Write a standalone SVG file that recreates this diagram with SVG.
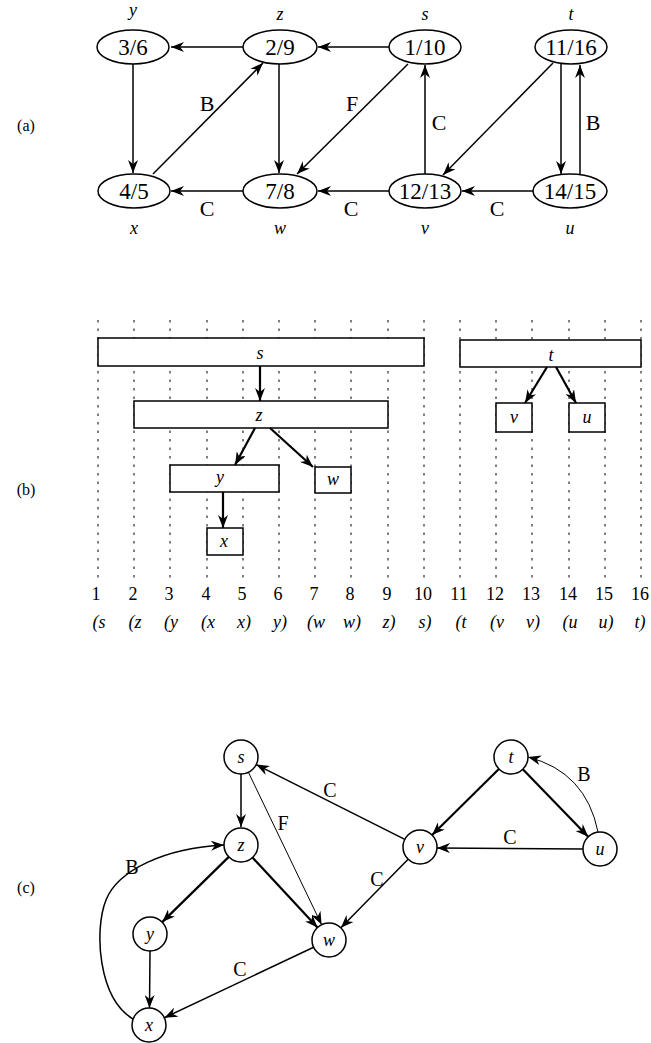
<svg xmlns="http://www.w3.org/2000/svg" width="651" height="1043" viewBox="0 0 651 1043">
<style>
.n{fill:white;stroke:black;stroke-width:1.5}
.e{stroke:black;stroke-width:1.5;fill:none;marker-end:url(#ah)}
.et{stroke:black;stroke-width:2.2;fill:none;marker-end:url(#ah)}
.ef{stroke:black;stroke-width:1;fill:none;marker-end:url(#ah)}
.num{font-family:"Liberation Serif",serif;font-size:23px;text-anchor:middle}
.lab{font-family:"Liberation Serif",serif;font-size:22px;text-anchor:middle}
.it{font-family:"Liberation Serif",serif;font-size:18px;font-style:italic;text-anchor:middle}
.sec{font-family:"Liberation Serif",serif;font-size:16px;text-anchor:middle}
.dot{stroke:black;stroke-width:1;stroke-dasharray:2.5 6}
.bar{fill:white;stroke:black;stroke-width:1.5}
.tk{font-family:"Liberation Serif",serif;font-size:18px;text-anchor:middle}
</style>
<defs>
<marker id="ah" markerUnits="userSpaceOnUse" markerWidth="14" markerHeight="10" refX="13" refY="5" orient="auto" viewBox="0 0 14 10">
<path d="M0,0 L13,5 L0,10 L4,5 Z" fill="black"/>
</marker>
</defs>
<rect width="651" height="1043" fill="white"/>

<text class="sec" x="26" y="131">(a)</text>
<text class="sec" x="26" y="495">(b)</text>
<text class="sec" x="26" y="893">(c)</text>

<!-- Part (a) connectors -->
<g id="edges-a">
<path class="e" d="M243,47 L171,47"/>
<path class="e" d="M389,47 L318,47"/>
<path class="e" d="M133,64 L133,173"/>
<path class="e" d="M153,174 L263,63"/>
<path class="e" d="M279,64 L279,173"/>
<path class="e" d="M408,64 L297,174"/>
<path class="e" d="M243,191 L171,191"/>
<path class="e" d="M389,191 L318,191"/>
<path class="e" d="M425,174 L425,65"/>
<path class="e" d="M553,63 L443,175"/>
<path class="e" d="M561,64 L561,174"/>
<path class="e" d="M580,174 L580,65"/>
<path class="e" d="M533,191 L462,191"/>
<text class="lab" x="207" y="111">B</text>
<text class="lab" x="352" y="111">F</text>
<text class="lab" x="439" y="130">C</text>
<text class="lab" x="593" y="130">B</text>
<text class="lab" x="207" y="216">C</text>
<text class="lab" x="351" y="216">C</text>
<text class="lab" x="497" y="216">C</text>
</g>

<!-- Part (a) nodes -->
<g id="a-y"><ellipse class="n" cx="133" cy="47" rx="36" ry="17"/><text class="num" x="133" y="55">3/6</text><text class="it" x="133" y="16">y</text></g>
<g id="a-z"><ellipse class="n" cx="280" cy="47" rx="37" ry="17"/><text class="num" x="280" y="55">2/9</text><text class="it" x="280" y="20">z</text></g>
<g id="a-s"><ellipse class="n" cx="425" cy="47" rx="36" ry="17"/><text class="num" x="425" y="55">1/10</text><text class="it" x="425" y="20">s</text></g>
<g id="a-t"><ellipse class="n" cx="571" cy="47" rx="36" ry="17"/><text class="num" x="571" y="55">11/16</text><text class="it" x="571" y="20">t</text></g>
<g id="a-x"><ellipse class="n" cx="134" cy="191" rx="36" ry="17"/><text class="num" x="134" y="199">4/5</text><text class="it" x="134" y="234">x</text></g>
<g id="a-w"><ellipse class="n" cx="280" cy="191" rx="37" ry="17"/><text class="num" x="280" y="199">7/8</text><text class="it" x="280" y="234">w</text></g>
<g id="a-v"><ellipse class="n" cx="425" cy="191" rx="36" ry="17"/><text class="num" x="425" y="199">12/13</text><text class="it" x="425" y="234">v</text></g>
<g id="a-u"><ellipse class="n" cx="570" cy="191" rx="37" ry="17"/><text class="num" x="570" y="199">14/15</text><text class="it" x="570" y="234">u</text></g>

<!-- Part (b) grid -->
<g id="grid-b">
<line class="dot" x1="98" y1="320" x2="98" y2="578"/>
<line class="dot" x1="134" y1="320" x2="134" y2="578"/>
<line class="dot" x1="170" y1="320" x2="170" y2="578"/>
<line class="dot" x1="207" y1="320" x2="207" y2="578"/>
<line class="dot" x1="243" y1="320" x2="243" y2="578"/>
<line class="dot" x1="279" y1="320" x2="279" y2="578"/>
<line class="dot" x1="315" y1="320" x2="315" y2="578"/>
<line class="dot" x1="351" y1="320" x2="351" y2="578"/>
<line class="dot" x1="388" y1="320" x2="388" y2="578"/>
<line class="dot" x1="424" y1="320" x2="424" y2="578"/>
<line class="dot" x1="460" y1="320" x2="460" y2="578"/>
<line class="dot" x1="496" y1="320" x2="496" y2="578"/>
<line class="dot" x1="532" y1="320" x2="532" y2="578"/>
<line class="dot" x1="569" y1="320" x2="569" y2="578"/>
<line class="dot" x1="605" y1="320" x2="605" y2="578"/>
<line class="dot" x1="641" y1="320" x2="641" y2="578"/>
</g>

<!-- Part (b) bars -->
<g id="b-s"><rect class="bar" x="98" y="338" width="326" height="28"/><text class="it" x="260" y="359">s</text></g>
<g id="b-t"><rect class="bar" x="460" y="340" width="181" height="27"/><text class="it" x="551" y="361">t</text></g>
<g id="b-z"><rect class="bar" x="134" y="401" width="254" height="27"/><text class="it" x="259" y="421">z</text></g>
<g id="b-y"><rect class="bar" x="170" y="465" width="109" height="27"/><text class="it" x="220" y="483">y</text></g>
<g id="b-w"><rect class="bar" x="315" y="467" width="36" height="26"/><text class="it" x="333" y="485">w</text></g>
<g id="b-x"><rect class="bar" x="207" y="528" width="36" height="27"/><text class="it" x="224" y="547">x</text></g>
<g id="b-v"><rect class="bar" x="496" y="403" width="36" height="29"/><text class="it" x="514" y="423">v</text></g>
<g id="b-u"><rect class="bar" x="569" y="403" width="36" height="29"/><text class="it" x="587" y="423">u</text></g>

<g id="edges-b">
<path class="et" d="M260,366 L260,401"/>
<path class="et" d="M255,428 L235,465"/>
<path class="et" d="M270,428 L313,467"/>
<path class="et" d="M223,492 L223,528"/>
<path class="et" d="M547,367 L525,403"/>
<path class="et" d="M556,367 L576,403"/>
</g>

<!-- Part (b) axis -->
<g id="axis-b">
<text class="tk" x="96" y="600">1</text>
<text class="tk" x="133" y="600">2</text>
<text class="tk" x="169" y="600">3</text>
<text class="tk" x="206" y="600">4</text>
<text class="tk" x="242" y="600">5</text>
<text class="tk" x="278" y="600">6</text>
<text class="tk" x="314" y="600">7</text>
<text class="tk" x="350" y="600">8</text>
<text class="tk" x="387" y="600">9</text>
<text class="tk" x="423" y="600">10</text>
<text class="tk" x="459" y="600">11</text>
<text class="tk" x="495" y="600">12</text>
<text class="tk" x="531" y="600">13</text>
<text class="tk" x="568" y="600">14</text>
<text class="tk" x="604" y="600">15</text>
<text class="tk" x="640" y="600">16</text>
<text class="it" x="99" y="628">(s</text>
<text class="it" x="135" y="628">(z</text>
<text class="it" x="171" y="628">(y</text>
<text class="it" x="208" y="628">(x</text>
<text class="it" x="244" y="628">x)</text>
<text class="it" x="280" y="628">y)</text>
<text class="it" x="316" y="628">(w</text>
<text class="it" x="352" y="628">w)</text>
<text class="it" x="389" y="628">z)</text>
<text class="it" x="425" y="628">s)</text>
<text class="it" x="461" y="628">(t</text>
<text class="it" x="497" y="628">(v</text>
<text class="it" x="533" y="628">v)</text>
<text class="it" x="570" y="628">(u</text>
<text class="it" x="606" y="628">u)</text>
<text class="it" x="640" y="628">t)</text>
</g>

<!-- Part (c) connectors -->
<g id="edges-c">
<path class="e" d="M241,774 L241,827"/>
<path class="ef" d="M248.4,772.3 L321.6,924.7"/>
<path class="et" d="M252.5,857.5 L317.5,927.5"/>
<path class="et" d="M228.8,856.9 L162.2,922.1"/>
<path class="e" d="M150,951 L149.5,1008"/>
<path class="e" d="M313.6,947.3 L164.4,1017.7"/>
<path class="e" d="M404.8,839.4 L256.2,764.6"/>
<path class="e" d="M408.1,859.2 L340.9,927.8"/>
<path class="et" d="M498.9,769 L432.1,835"/>
<path class="et" d="M522.8,769.2 L588.2,836.8"/>
<path class="e" d="M583,849 L437,848"/>
<path class="ef" d="M598,832 Q586,772 528,757"/>
<path class="e" d="M133,1019 C98,998 94,930 106,900 C118,870 165,848 224,845"/>
<text class="lab" x="330" y="797" style="font-size:20px">C</text>
<text class="lab" x="283" y="830" style="font-size:20px">F</text>
<text class="lab" x="377" y="886" style="font-size:20px">C</text>
<text class="lab" x="240" y="976" style="font-size:20px">C</text>
<text class="lab" x="510" y="844" style="font-size:20px">C</text>
<text class="lab" x="584" y="781" style="font-size:20px">B</text>
<text class="lab" x="132" y="874" style="font-size:20px">B</text>
</g>

<!-- Part (c) nodes -->
<g id="c-s"><circle class="n" cx="241" cy="757" r="17"/><text class="it" x="241" y="763">s</text></g>
<g id="c-z"><circle class="n" cx="241" cy="845" r="17"/><text class="it" x="241" y="851">z</text></g>
<g id="c-y"><circle class="n" cx="150" cy="934" r="17"/><text class="it" x="150" y="940">y</text></g>
<g id="c-x"><circle class="n" cx="149" cy="1025" r="17"/><text class="it" x="149" y="1031">x</text></g>
<g id="c-w"><circle class="n" cx="329" cy="940" r="17"/><text class="it" x="329" y="946">w</text></g>
<g id="c-v"><circle class="n" cx="420" cy="847" r="17"/><text class="it" x="420" y="853">v</text></g>
<g id="c-t"><circle class="n" cx="511" cy="757" r="17"/><text class="it" x="511" y="763">t</text></g>
<g id="c-u"><circle class="n" cx="600" cy="849" r="17"/><text class="it" x="600" y="855">u</text></g>
</svg>
